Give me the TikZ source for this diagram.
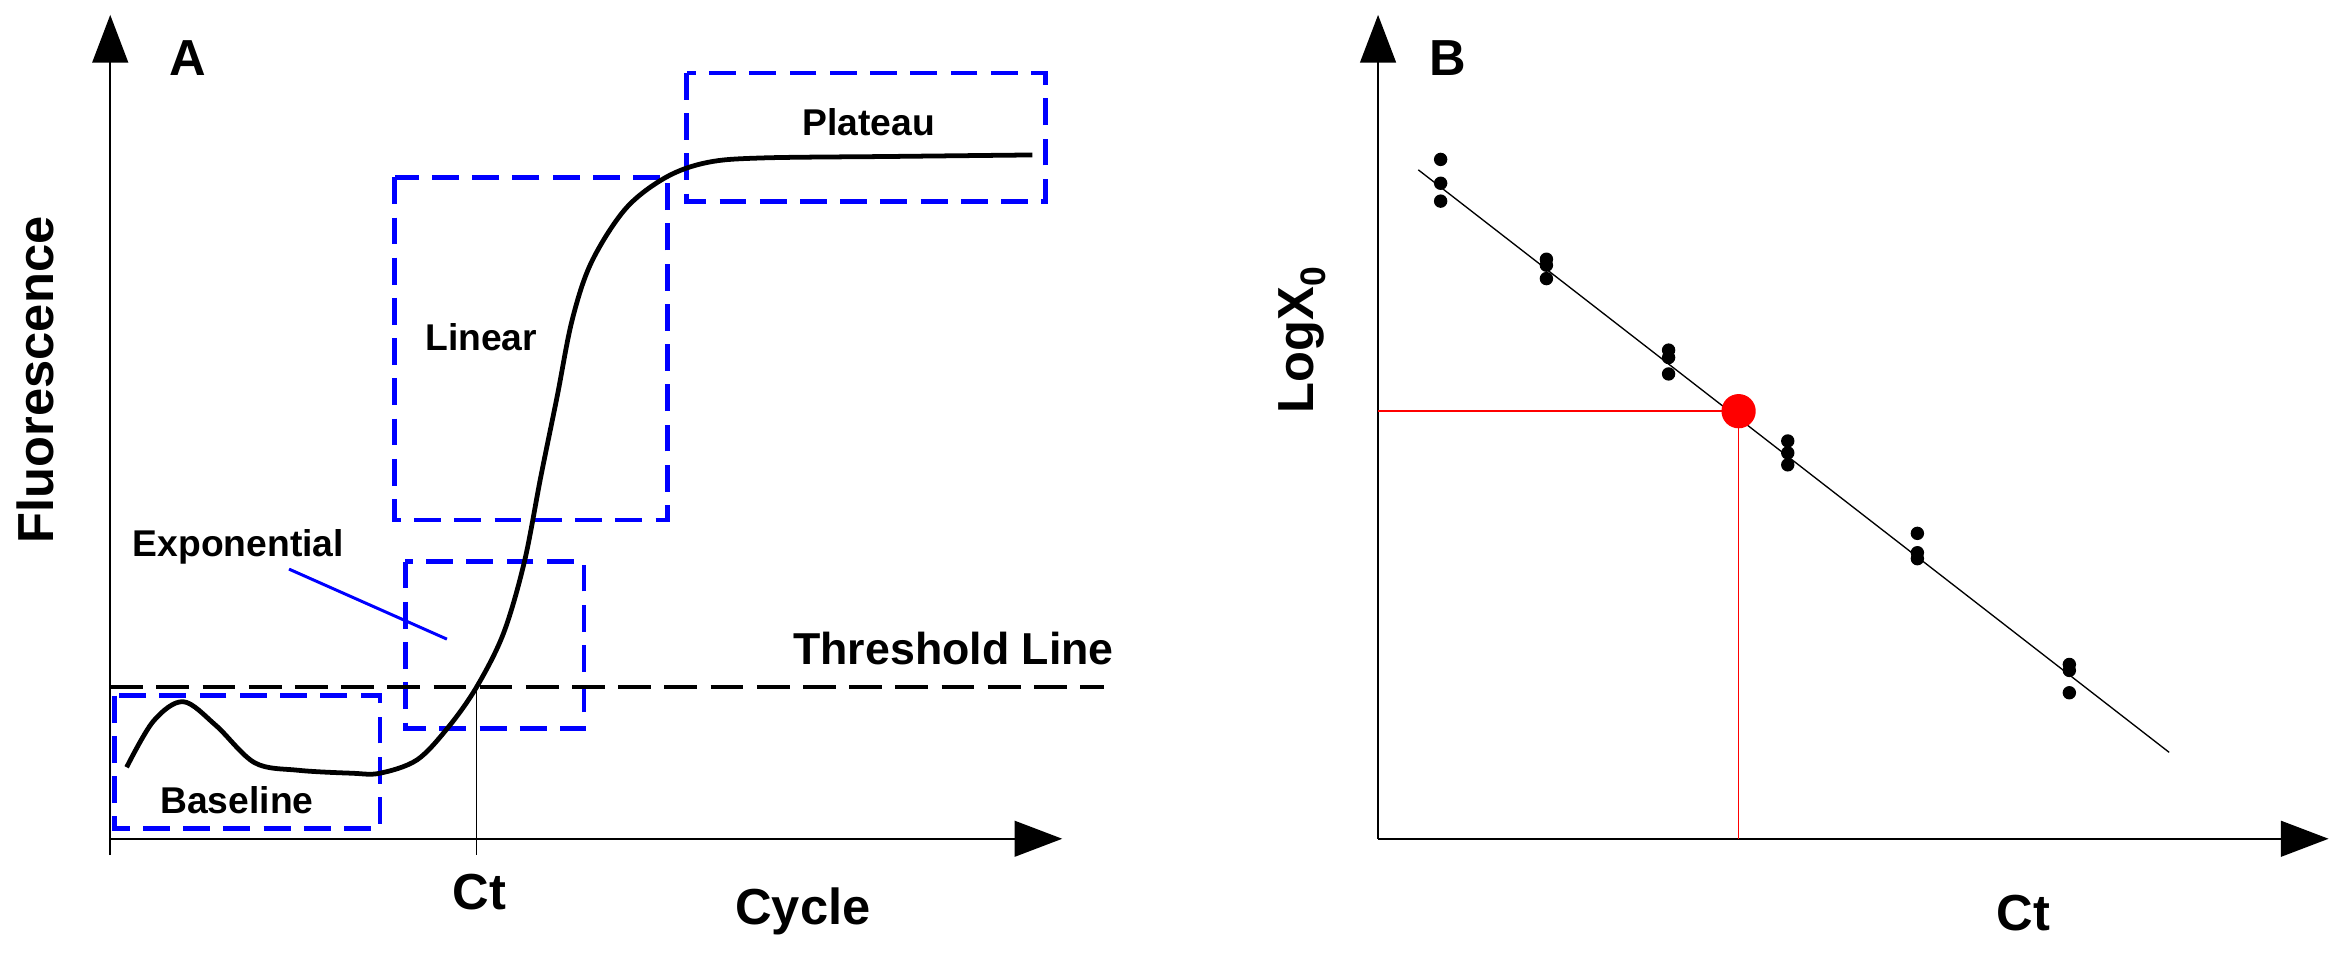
\documentclass[tikz,border=0pt]{standalone}
\usepackage{fontspec}
\setmainfont{Liberation Sans}
\usetikzlibrary{arrows.meta}
\begin{document}
\begin{tikzpicture}[x=1pt,y=-1pt,
  ax/.style={line width=1.3pt,-{Triangle[length=32pt,width=24pt]}},
  bx/.style={draw=blue,line width=3.2pt,dash pattern=on 18pt off 9pt},
  lbl/.style={font=\bfseries\fontsize{25}{28}\selectfont,inner sep=0pt},
  big/.style={font=\bfseries\fontsize{34}{38}\selectfont,inner sep=0pt},
  dot/.style={circle,fill=black,inner sep=0pt,minimum size=9pt}]
\useasboundingbox (0,0) rectangle (1568,643);
% Panel A
\coordinate (Ao) at (74,563);
\coordinate (Ay) at (74,10);
\coordinate (Ax) at (713,563);
\draw[ax] (74,574) -- (Ay);
\draw[ax] (Ao) -- (Ax);
\node[big] (A) at (126,39) {A};
\node[big,rotate=90] (fl) at (24,255) {Fluorescence};
\node[big] (cyc) at (539,612) {Cycle};
\node[big] (ct) at (322,599) {Ct};
\draw[bx] (461,49) rectangle (702,135);
\draw[bx] (265,119) rectangle (448,349);
\draw[bx] (272,377) rectangle (392,489);
\draw[bx] (77,467) rectangle (255,556);
\node[lbl] (pl) at (583,82) {Plateau};
\node[lbl] (li) at (323,226) {Linear};
\node[lbl] (ex) at (160,367) {Exponential};
\node[lbl] (bl) at (159,537) {Baseline};
\node[font=\bfseries\fontsize{30}{34}\selectfont,inner sep=0pt] (th) at (640,435) {Threshold Line};
\coordinate (e1) at (194,382);
\coordinate (e2) at (300,429);
\draw[blue,line width=2pt] (e1) -- (e2);
\coordinate (t1) at (74,461);
\coordinate (t2) at (741,461);
\draw[line width=3pt,dash pattern=on 22pt off 9pt] (t1) -- (t2);
\coordinate (c1) at (320,461);
\coordinate (c2) at (320,574);
\draw[line width=0.9pt] (c1) -- (c2);
\draw[line width=3.2pt,line join=round]
 plot[smooth,tension=0.55] coordinates {(85,515) (103,484) (123,471) (145,487) (171,512) (200,517) (236,519) (255,519) (280,510) (301,488) (320,461) (338,425) (352,377) (363,320) (374,266) (384,215) (397,176) (420,140) (447,119) (475,109) (512,106) (600,105) (693,104)};
% Panel B
\coordinate (Bo) at (925,563);
\coordinate (By) at (925,10);
\coordinate (Bx) at (1563,563);
\draw[ax] (Bo) -- (By);
\draw[ax] (Bo) -- (Bx);
\node[big] (B) at (972,39) {B};
\node[big,rotate=90] (lx) at (874,228) {LogX\textsubscript{0}};
\node[big] (ct2) at (1358,613) {Ct};
\coordinate (f1) at (952,114);
\coordinate (f2) at (1456,505);
\draw[line width=0.9pt] (f1) -- (f2);
\coordinate (ry) at (925,276);
\coordinate (rx) at (1167,563);
\coordinate (rc) at (1167,276);
\draw[red,line width=1pt] (ry) -- (rc) -- (rx);
\node[fill=red,circle,inner sep=0pt,minimum size=23pt] (rd) at (rc) {};
\foreach \n/\x/\y in {a1/967/107,a2/967/123,a3/967/135,b1/1038/174,b2/1038/178,b3/1038/187,
  c1/1120/235,c2/1120/240,c3/1120/251,d1/1200/296,d2/1200/304,d3/1200/312,
  g1/1287/358,g2/1287/371,g3/1287/375,h1/1389/446,h2/1389/450,h3/1389/465}
  \node[dot] (\n) at (\x,\y) {};
\end{tikzpicture}
\end{document}
